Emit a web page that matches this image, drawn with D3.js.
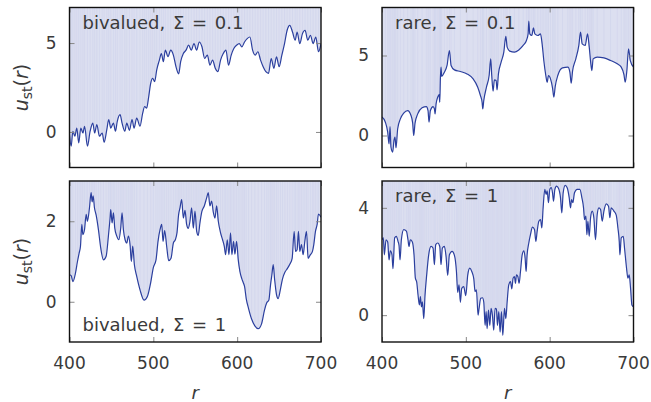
<!DOCTYPE html>
<html>
<head>
<meta charset="utf-8">
<script src="https://cdn.jsdelivr.net/npm/d3@7"></script>
<style>
  body { margin: 0; background: #fff; }
  svg { display: block; }
  text { font-family: "DejaVu Sans", sans-serif; fill: #3a3a3a; }
</style>
</head>
<body>
<svg id="chart" width="651" height="402"></svg>
<script>
// bivalued, Sigma = 0.1
var rTL = [400,402,404,406.4,408.7,411,413.5,416,418,421.4,424.6,427.8,430,432.6,435.7,439,441.3,444.5,446.8,449.2,452.4,454.8,457,460.3,462.7,466,468.3,471.5,474.6,477,480.2,484.1,487.3,489.7,492,494.5,496.9,499.2,501.6,504,507.2,509.6,512,514.3,517.5,520.7,523.9,527,530.2,532.6,535.8,539,542.1,545.3,548.5,551.6,554.8,558,561.2,564.4,567.5,570.7,573.9,577,580.2,583.4,586.6,589.7,592.9,596,599.3,602.5,605.6,608.8,612,615.2,618.4,621.5,624.7,627.9,631,634.2,637.4,640.6,643.8,646.9,650,653.3,656.5,659.6,662.8,666,669.2,671.5,674.7,677.9,681,684.2,687.4,690.6,693.8,697,700];
var uTL = [-0.15,-0.80,0.04,-0.24,0.22,-0.61,0.22,-0.06,0.32,-0.80,0.04,0.50,-0.06,0.41,-0.24,-0.06,-0.58,0.13,0.69,0.22,0.50,0.04,0.60,0.97,0.50,0.04,0.50,0.09,0.69,0.22,0.78,0.32,1.06,1.43,1.34,1.99,2.74,3.02,2.83,3.48,4.04,4.41,3.95,4.60,4.23,4.60,4.32,3.67,3.26,3.95,4.41,4.60,4.88,4.60,4.97,4.60,5.06,4.79,4.13,4.32,3.76,4.04,3.58,3.39,4.04,4.41,4.60,3.76,4.32,4.69,4.88,4.97,4.79,5.06,5.25,5.34,4.60,4.32,4.51,4.04,3.67,3.39,3.30,4.13,3.58,4.23,3.67,4.32,4.97,5.72,6.00,5.62,5.16,5.62,4.97,5.53,5.72,5.16,5.44,4.97,5.34,4.51,4.97];

// rare, Sigma = 0.1
var rTR = [400,404,406.8,408.4,409.6,410.7,412.7,414.3,415.5,416.7,418.7,421.9,425.9,430.6,434.6,436.6,437.8,439.4,442.6,447.8,452.9,454.9,456.1,457.7,460.9,462.5,463.3,464.5,466.5,468.1,468.9,469.7,470.4,471.2,474.4,477.6,480.4,482.4,486.4,493.5,501.5,508.7,514.2,517.4,519.4,520.2,521.4,524.6,527.8,529.7,530.9,532.5,534.1,536.1,537.3,538.9,542.1,545.3,547.7,549.3,552.4,558,563.2,568.4,572.3,574.3,575.1,576.3,578.7,580.7,582.3,585.9,589,591,593,595.4,597,598.6,601,603.4,605,606.6,609.7,615.3,621.7,624.1,625.7,627.3,631.2,634.8,636.8,638.8,642.4,645.2,647.2,649.1,650.3,651.9,656.7,664.7,672.6,680.6,685.4,688.6,690.1,692.1,694.1,696.1,700];
var uTR = [1.15,0.83,0.21,-0.52,0.56,-0.73,-1.04,-0.31,-0.10,-0.77,0.42,1.04,1.40,1.56,1.25,0.77,0.00,0.77,1.35,1.73,1.81,1.56,0.83,1.56,1.81,1.67,1.35,1.98,2.40,2.56,2.08,3.65,4.27,3.69,3.96,4.38,5.31,4.38,4.10,4.00,3.85,3.54,3.02,2.50,2.08,1.67,2.19,3.02,3.75,4.79,3.75,2.77,3.48,3.44,2.85,3.85,4.58,5.21,6.19,5.52,5.27,5.21,5.35,5.63,5.94,6.35,7.15,6.35,6.25,6.73,6.35,6.25,6.35,5.73,4.69,3.75,3.33,3.75,3.54,2.98,2.40,3.06,3.75,4.23,4.27,3.96,3.27,4.02,4.79,5.63,6.46,5.73,5.63,6.35,5.52,4.48,4.06,4.79,4.90,4.85,4.69,4.48,4.27,3.81,3.33,4.06,5.42,4.69,4.27];

// bivalued, Sigma = 1
var rBL = [400,402,404,407.1,409.5,411.5,413.1,414.7,415.9,417.9,419.9,421.4,423.8,425.8,427,428.2,429.8,431.8,434.5,437.3,440.5,443.7,446.4,448.4,449.2,450.8,452.4,454,456.4,458.8,461.1,462.7,464.3,466.3,468.3,470.3,472.3,473.8,475.4,477.4,480.2,484.2,488.9,492.9,496.9,500,503.2,505.6,508,510,511.6,513.5,515.9,518.3,521.1,523.9,526.2,528.2,530.2,531.8,533.8,535.8,537.8,539.7,541.7,543.7,545.7,547.7,549.7,551.7,553.6,555.6,558,560.8,563.6,565.5,567.5,569.5,571.5,573.5,575.5,577.5,580.2,582.6,584.6,586.2,588.2,590.2,592.1,593.7,595.7,597.3,599.3,601.3,603.3,605.6,607.2,608.8,610.8,613.6,617.2,621.1,625.1,629.1,632.6,635.4,637.8,639.8,641.4,643,644.6,646.9,648.9,651.7,654.1,656.9,660,662.8,665.6,668,669.6,671.5,673.1,674.7,676.7,678.7,680.7,682.7,684.6,687.4,689.8,691.4,693.4,695.4,697,700];
var uBL = [0.67,0.65,0.50,0.71,1.00,1.21,1.38,1.92,1.67,1.79,2.17,2.00,2.33,2.71,2.48,2.63,2.33,2.15,1.79,1.33,1.04,1.13,1.63,2.08,2.29,1.96,2.21,1.83,1.63,1.54,1.83,2.21,1.79,1.54,1.46,1.63,1.40,1.00,1.38,0.92,0.63,0.29,0.04,0.13,0.48,0.85,1.04,1.50,1.79,1.92,1.50,1.77,1.38,1.02,1.08,1.46,1.54,1.71,2.17,2.33,2.54,2.08,2.27,1.92,1.82,2.00,2.33,1.83,2.25,1.75,1.65,1.96,2.25,2.38,2.58,2.71,2.38,2.50,2.23,2.08,2.38,2.00,1.71,1.54,1.38,1.17,1.54,1.17,1.71,1.17,1.50,1.18,1.50,1.04,0.75,0.57,0.48,0.38,0.08,-0.17,-0.43,-0.60,-0.67,-0.55,-0.21,-0.02,0.04,0.42,0.67,0.92,0.57,0.18,0.08,0.32,0.57,0.73,0.83,0.93,1.08,1.75,1.25,1.29,1.75,1.25,1.42,1.17,1.50,1.75,1.08,1.17,1.25,1.42,1.75,1.92,2.18,2.10];

// rare, Sigma = 1
var rBR = [400,401.6,402.8,404.8,406.8,408.4,410,411.9,413.1,415.1,417.1,419.1,420.3,421.5,423.1,425.9,429.1,431,432.2,433.8,436.2,438.2,439.8,441.4,443,444.6,445.8,447,448.2,449.8,451.3,453.3,455.7,458.5,460.9,462.5,464.1,466.5,468.9,470.4,472,474.4,476.4,478.4,480.4,483.6,486.4,488.8,490.3,491.9,493.5,495.1,497.5,499.9,502.3,504.7,507.1,509.5,511,512.6,514.6,515.8,517.8,519.8,521.4,523,524.2,525.4,527,528.6,530.1,531.7,533.3,534.9,536.5,537.7,539.3,540.9,542.5,544.1,546.1,547.7,549.3,551.2,553.2,554.8,556.4,558,559.2,560.4,562,563.6,565.2,567.2,569.2,570.7,571.9,573.1,575.1,577.1,579.5,581.9,583.5,585.1,587.1,589.1,590.6,592.2,594.2,595.8,597,598.6,600.2,601.8,603.4,604.6,606.2,608.2,610.5,612.9,614.5,616.1,618.5,620.9,623.3,624.9,626.1,627.7,629.6,632.8,636,638.4,640.4,641.6,643.2,644.4,645.6,647.2,648.8,650.7,652.7,654.7,656.7,658.7,660.7,662.7,664.7,667.5,670.2,671.8,673.4,676.6,679.4,681.4,683,683.8,685.4,687.8,689.3,691.7,693.3,694.9,696.5,698.1,700];
var uBR = [2.81,2.88,2.25,2.81,2.73,2.06,2.40,2.25,1.73,2.88,2.94,2.75,2.60,2.06,2.81,3.19,3.13,2.81,2.56,2.81,2.73,2.25,1.38,1.23,0.75,0.38,0.69,0.31,0.50,-0.13,0.73,1.50,2.25,2.56,2.50,1.88,2.63,2.69,2.56,1.88,2.50,2.56,2.19,1.48,2.25,2.38,2.23,1.63,0.85,1.13,0.48,1.00,1.06,0.73,1.50,1.75,1.63,1.35,0.88,0.94,0.00,0.25,0.63,0.65,0.48,-0.38,0.13,-0.50,0.19,-0.38,0.25,0.00,-0.56,0.25,0.23,-0.38,0.13,-0.63,0.13,-0.75,0.25,-0.13,0.50,1.13,1.25,0.98,1.38,1.44,1.19,1.50,1.44,1.19,1.63,2.25,2.40,2.13,1.63,2.25,2.69,3.00,3.28,3.19,2.75,3.13,3.50,3.56,3.25,4.00,4.69,4.50,4.63,4.19,4.69,4.75,4.56,4.25,4.69,4.81,4.73,4.38,3.81,4.56,4.84,4.75,4.38,4.00,4.31,4.19,4.56,4.69,4.69,4.38,4.00,3.56,3.69,3.00,3.50,2.94,3.63,3.88,3.63,2.81,3.75,4.00,3.94,3.50,3.88,4.15,4.06,3.63,4.00,3.88,3.73,3.25,2.75,2.25,2.88,2.94,2.50,1.75,1.38,1.50,1.00,0.38,0.31];

var xTicks = [400, 500, 600, 700];

var panels = [
  { r: rTL, u: uTL, yDomain: [-2, 7], yTicks: [0, 5], label: "bivalued, Σ = 0.1", labelPos: "top",
    left: 69.5, top: 7.5, w: 251.5, h: 160, xLabels: false },
  { r: rTR, u: uTR, yDomain: [-2, 8], yTicks: [0, 5], label: "rare, Σ = 0.1", labelPos: "top",
    left: 382, top: 7.5, w: 251.5, h: 160, xLabels: false },
  { r: rBL, u: uBL, yDomain: [-1, 3], yTicks: [0, 2], label: "bivalued, Σ = 1", labelPos: "bottom",
    left: 69.5, top: 181, w: 251.5, h: 161, xLabels: true },
  { r: rBR, u: uBR, yDomain: [-1, 5], yTicks: [0, 4], label: "rare, Σ = 1", labelPos: "top",
    left: 382, top: 181, w: 251.5, h: 161, xLabels: true }
];

var svg = d3.select("#chart");

panels.forEach(function (p, i) {
  var pts = p.r.map(function (r, j) { return { r: r, u: p.u[j] }; });
  var x = d3.scaleLinear().domain([400, 700]).range([0, p.w]);
  var y = d3.scaleLinear().domain(p.yDomain).range([p.h, 0]);

  var g = svg.append("g").attr("transform", "translate(" + p.left + "," + p.top + ")");

  g.append("clipPath").attr("id", "clip" + i)
    .append("rect").attr("width", p.w).attr("height", p.h);

  var inner = g.append("g").attr("clip-path", "url(#clip" + i + ")");

  // shaded region above the curve
  var area = d3.area()
    .x(function (d) { return x(d.r); })
    .y0(0)
    .y1(function (d) { return y(d.u); })
    .curve(d3.curveMonotoneX);

  inner.append("path").datum(pts)
    .attr("d", area)
    .attr("fill", "#dcdff0");

  // faint sample lines inside the shading
  inner.selectAll("line.samp")
    .data(pts)
    .enter()
    .append("line")
    .attr("class", "samp")
    .attr("x1", function (d) { return x(d.r); })
    .attr("x2", function (d) { return x(d.r); })
    .attr("y1", 0)
    .attr("y2", function (d) { return y(d.u); })
    .attr("stroke", "#cdd0ea")
    .attr("stroke-width", 0.5);

  var line = d3.line()
    .x(function (d) { return x(d.r); })
    .y(function (d) { return y(d.u); })
    .curve(d3.curveMonotoneX);

  inner.append("path").datum(pts)
    .attr("d", line)
    .attr("fill", "none")
    .attr("stroke", "#2b3f9e")
    .attr("stroke-width", 1.2);

  // ticks on all four sides, pointing inwards
  var tickColor = "#888";
  g.append("g").call(d3.axisBottom(x).tickValues(xTicks).tickSize(-5).tickFormat(""))
    .attr("transform", "translate(0," + p.h + ")");
  g.append("g").call(d3.axisTop(x).tickValues(xTicks).tickSize(-5).tickFormat(""));
  g.append("g").call(d3.axisLeft(y).tickValues(p.yTicks).tickSize(-5).tickFormat(""));
  g.append("g").call(d3.axisRight(y).tickValues(p.yTicks).tickSize(-5).tickFormat(""))
    .attr("transform", "translate(" + p.w + ",0)");
  g.selectAll(".domain").remove();
  g.selectAll(".tick line").attr("stroke", tickColor).attr("stroke-width", 1);

  // y tick labels
  g.selectAll("text.ylab")
    .data(p.yTicks)
    .enter()
    .append("text")
    .attr("class", "ylab")
    .attr("x", -13)
    .attr("y", function (d) { return y(d); })
    .attr("dy", "0.35em")
    .attr("text-anchor", "end")
    .style("font-size", "17px")
    .text(function (d) { return d; });

  if (p.xLabels) {
    g.selectAll("text.xlab")
      .data(xTicks)
      .enter()
      .append("text")
      .attr("class", "xlab")
      .attr("x", function (d) { return x(d); })
      .attr("y", p.h + 27)
      .attr("text-anchor", "middle")
      .style("font-size", "17px")
      .text(function (d) { return d; });

    g.append("text")
      .attr("x", p.w / 2)
      .attr("y", p.h + 57)
      .attr("text-anchor", "middle")
      .style("font-size", "18px")
      .style("font-style", "italic")
      .text("r");
  }

  // frame
  g.append("rect")
    .attr("width", p.w).attr("height", p.h)
    .attr("fill", "none")
    .attr("stroke", "#111")
    .attr("stroke-width", 1.4);

  // panel label
  g.append("text")
    .attr("x", 13)
    .attr("y", p.labelPos === "top" ? 21 : p.h - 11)
    .style("font-size", "18px")
    .style("word-spacing", "2px")
    .attr("xml:space", "preserve")
    .text(p.label);

  // y axis label for the left column
  if (p.left < 100) {
    var yl = svg.append("text")
      .attr("transform", "translate(28," + (p.top + p.h / 2) + ") rotate(-90)")
      .attr("text-anchor", "middle")
      .style("font-size", "19px");
    yl.append("tspan").style("font-style", "italic").text("u");
    yl.append("tspan").attr("dy", 4).style("font-size", "14px").text("st");
    yl.append("tspan").attr("dy", -4).text("(");
    yl.append("tspan").style("font-style", "italic").text("r");
    yl.append("tspan").text(")");
  }
});
</script>
</body>
</html>
